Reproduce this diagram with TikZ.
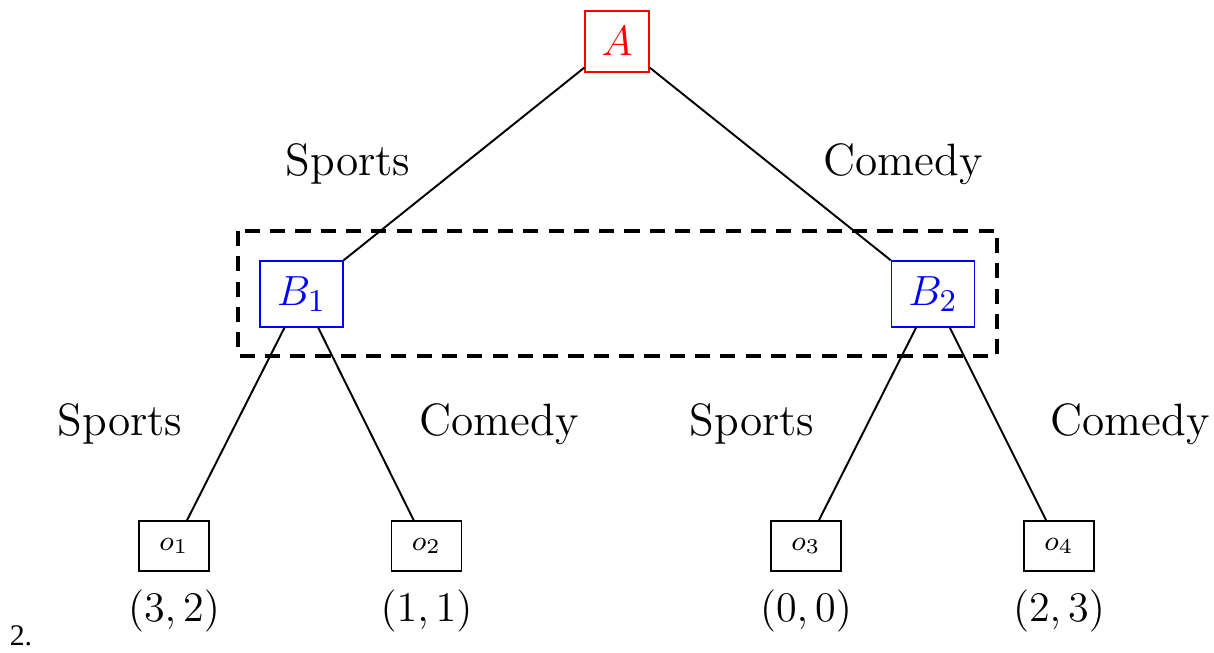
\documentclass[tikz,border=0pt]{standalone}
\usepackage{fontspec}
\usepackage{xcolor}
\newfontfamily\itemfont{Liberation Serif}
\usetikzlibrary{positioning}
\tikzset{
  first/.style={
    draw=red,
    text=red,
    minimum width=0.64cm,
    minimum height=0.61cm,
    inner sep=1pt,
    font=\fontsize{13.2pt}{15pt}\selectfont
  },
  second/.style={
    draw=blue,
    text=blue,
    minimum width=0.83cm,
    minimum height=0.66cm,
    inner sep=1pt,
    font=\fontsize{13pt}{15pt}\selectfont
  },
  outcome/.style={
    draw,
    minimum width=0.70cm,
    minimum height=0.50cm,
    inner sep=1pt,
    font=\fontsize{8pt}{9pt}\selectfont
  },
  move/.style={font=\fontsize{12.9pt}{15pt}\selectfont, inner sep=0pt},
  payoff/.style={font=\fontsize{12.9pt}{15pt}\selectfont, inner sep=0pt},
  infoset/.style={draw, line width=0.9pt, dash pattern=on 4.3pt off 2.9pt},
  edge/.style={draw, line width=0.55pt}
}
\begin{document}
\begin{tikzpicture}
  \useasboundingbox (0,0) rectangle (12.14,-6.53);

  % decision nodes
  \node[first] (a) at (6.17,-0.415) {$A$};
  \node[second] (b1) at (3.015,-2.94) {$B_1$};
  \node[second] (b2) at (9.33,-2.94) {$B_2$};

  % outcomes
  \node[outcome] (o1) at (1.74,-5.46) {$o_1$};
  \node[outcome] (o2) at (4.265,-5.46) {$o_2$};
  \node[outcome] (o3) at (8.06,-5.46) {$o_3$};
  \node[outcome] (o4) at (10.59,-5.46) {$o_4$};

  \node[payoff] (p1) at (1.74,-6.11) {$(3,2)$};
  \node[payoff] (p2) at (4.265,-6.11) {$(1,1)$};
  \node[payoff] (p3) at (8.06,-6.11) {$(0,0)$};
  \node[payoff] (p4) at (10.59,-6.11) {$(2,3)$};

  % move labels
  \node[move] (s0) at (3.48,-1.64) {Sports};
  \node[move] (c0) at (9.03,-1.64) {Comedy};
  \node[move] (s1) at (1.20,-4.24) {Sports};
  \node[move] (c1) at (4.99,-4.24) {Comedy};
  \node[move] (s2) at (7.52,-4.24) {Sports};
  \node[move] (c2) at (11.30,-4.24) {Comedy};

  % information set of player B
  \coordinate (i1) at (2.38,-2.31);
  \coordinate (i2) at (9.97,-3.56);
  \draw[infoset] (i1) rectangle (i2);

  \draw[edge] (a) -- (b1);
  \draw[edge] (a) -- (b2);
  \draw[edge] (b1) -- (o1);
  \draw[edge] (b1) -- (o2);
  \draw[edge] (b2) -- (o3);
  \draw[edge] (b2) -- (o4);

  \node[font=\itemfont\fontsize{8.5pt}{10pt}\selectfont, inner sep=0pt] (num) at (0.21,-6.36) {2.};
\end{tikzpicture}
\end{document}
